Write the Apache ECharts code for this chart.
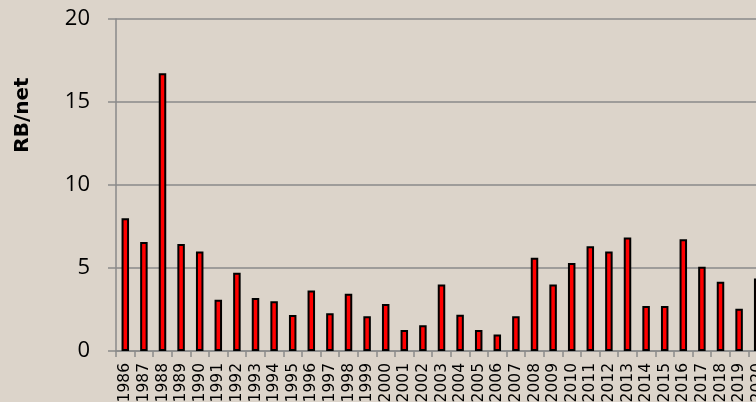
<!DOCTYPE html>
<html>
<head>
<meta charset="utf-8">
<script src="https://cdn.jsdelivr.net/npm/echarts@6/dist/echarts.min.js"></script>
<style>
  html, body { margin: 0; padding: 0; background: #dcd4ca; }
  #chart { width: 756px; height: 402px; }
</style>
</head>
<body>
<div id="chart"></div>
<script>
const years = [
  "1986", "1987", "1988", "1989", "1990", "1991", "1992", "1993", "1994", "1995",
  "1996", "1997", "1998", "1999", "2000", "2001", "2002", "2003", "2004", "2005",
  "2006", "2007", "2008", "2009", "2010", "2011", "2012", "2013", "2014", "2015",
  "2016", "2017", "2018", "2019", "2020",
];
const rbNet = [
  8.0, 6.57, 16.73, 6.45, 6.0, 3.09, 4.72, 3.19, 2.99, 2.17,
  3.65, 2.27, 3.45, 2.09, 2.83, 1.27, 1.55, 4.0, 2.19, 1.27,
  1.0, 2.09, 5.62, 4.0, 5.3, 6.31, 6.0, 6.83, 2.71, 2.71,
  6.73, 5.08, 4.17, 2.55, 4.36,
];
const yTicks = { min: 0, max: 20, interval: 5 };

const myChart = echarts.init(document.getElementById("chart"));

const option = {
  backgroundColor: "#dcd4ca",
  animation: false,
  grid: {
    left: 116,
    top: 19,
    width: 651,
    height: 332,
    outerBoundsMode: "none",
    containLabel: false,
  },
  graphic: [
    {
      type: "text",
      x: 23,
      y: 115,
      rotation: Math.PI / 2,
      style: {
        text: "RB/net",
        font: "bold 20px 'DejaVu Sans'",
        fill: "#000",
        align: "center",
        verticalAlign: "middle",
      },
    },
  ],
  xAxis: {
    type: "category",
    data: years,
    axisLine: { lineStyle: { color: "#8a8a8a", width: 1.5 } },
    axisTick: {
      show: true,
      length: 6,
      interval: 0,
      lineStyle: { color: "#8a8a8a", width: 1.5 },
    },
    axisLabel: {
      interval: 0,
      rotate: 90,
      margin: 12,
      hideOverlap: false,
      color: "#000",
      fontFamily: "DejaVu Sans",
      fontSize: 15.5,
    },
  },
  yAxis: {
    type: "value",
    min: yTicks.min,
    max: yTicks.max,
    interval: yTicks.interval,
    axisLine: { show: true, lineStyle: { color: "#8a8a8a", width: 1.5 } },
    axisTick: {
      show: true,
      length: 8,
      lineStyle: { color: "#8a8a8a", width: 1.5 },
    },
    axisLabel: {
      margin: 26,
      color: "#000",
      fontFamily: "Open Sans",
      fontSize: 22,
    },
    splitLine: { lineStyle: { color: "#8a8a8a", width: 1.5 } },
  },
  series: [
    {
      type: "bar",
      data: rbNet,
      barWidth: 7.5,
      itemStyle: {
        color: "#ff0000",
        borderColor: "#000",
        borderWidth: 2,
      },
    },
  ],
};

myChart.setOption(option);
</script>
</body>
</html>
